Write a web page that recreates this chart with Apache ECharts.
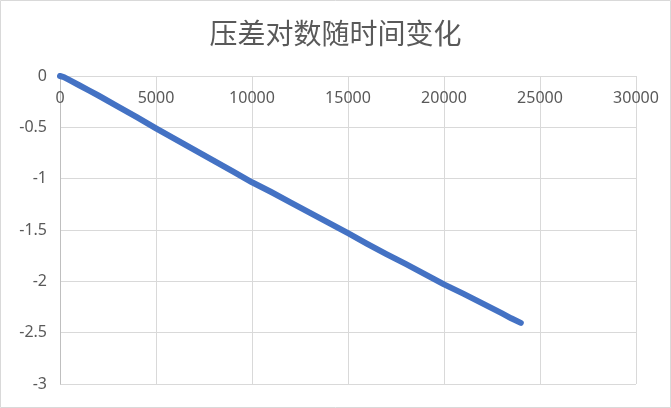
<!DOCTYPE html>
<html>
<head>
<meta charset="utf-8">
<script src="https://cdn.jsdelivr.net/npm/echarts@6/dist/echarts.min.js"></script>
<style>
html,body{margin:0;padding:0;background:#fff;}
#c{width:671px;height:408px;}
</style>
</head>
<body>
<div id="c"></div>
<script>
const titleText = '压差对数随时间变化';
const timeValues = [0, 200, 500, 1000, 1500, 2000, 3000, 4000, 5000, 6000, 7000, 8000, 9000, 10000, 11000, 12000, 13000, 14000, 15000, 16000, 17000, 18000, 19000, 20000, 21000, 22000, 23000, 23500, 24000];
const logDiffValues = [0, -0.01, -0.04, -0.09, -0.14, -0.19, -0.295, -0.40, -0.51, -0.615, -0.72, -0.825, -0.93, -1.035, -1.13, -1.23, -1.33, -1.43, -1.53, -1.635, -1.735, -1.83, -1.93, -2.03, -2.12, -2.215, -2.31, -2.36, -2.405];
const xTicks = {min: 0, max: 30000, interval: 5000};
const yTicks = {min: -3, max: 0, interval: 0.5};

const seriesData = timeValues.map((t, i) => [t, logDiffValues[i]]);

const chart = echarts.init(document.getElementById('c'));
chart.setOption({
  animation: false,
  backgroundColor: '#fff',
  title: {
    text: titleText,
    left: 'center',
    top: 14,
    textStyle: {fontFamily: 'Noto Sans CJK SC', fontSize: 28, fontWeight: 'normal', color: '#595959'}
  },
  graphic: [{
    type: 'rect',
    shape: {x: 0.5, y: 0.5, width: 670, height: 407},
    style: {fill: 'none', stroke: '#d9d9d9', lineWidth: 1},
    silent: true
  }],
  grid: {left: 60, right: 35, top: 76, bottom: 24},
  xAxis: {
    type: 'value',
    position: 'top',
    min: xTicks.min, max: xTicks.max, interval: xTicks.interval,
    axisLine: {show: true, lineStyle: {color: '#d9d9d9'}},
    axisTick: {show: false},
    splitLine: {show: true, lineStyle: {color: '#d9d9d9', width: 1}},
    axisLabel: {inside: true, margin: 14, color: '#595959', fontSize: 16, fontFamily: 'Noto Sans', showMaxLabel: true, showMinLabel: true, formatter: v => String(v)}
  },
  yAxis: {
    type: 'value',
    min: yTicks.min, max: yTicks.max, interval: yTicks.interval,
    axisLine: {show: true, onZero: false, lineStyle: {color: '#bfbfbf'}},
    axisTick: {show: false},
    splitLine: {show: true, lineStyle: {color: '#d9d9d9', width: 1}},
    axisLabel: {margin: 13, color: '#595959', fontSize: 16, fontFamily: 'Noto Sans', formatter: v => String(v)}
  },
  series: [{
    type: 'line',
    data: seriesData,
    showSymbol: false,
    smooth: false,
    lineStyle: {color: '#4472C4', width: 6, cap: 'round', join: 'round'},
    itemStyle: {color: '#4472C4'}
  }]
});
</script>
</body>
</html>
